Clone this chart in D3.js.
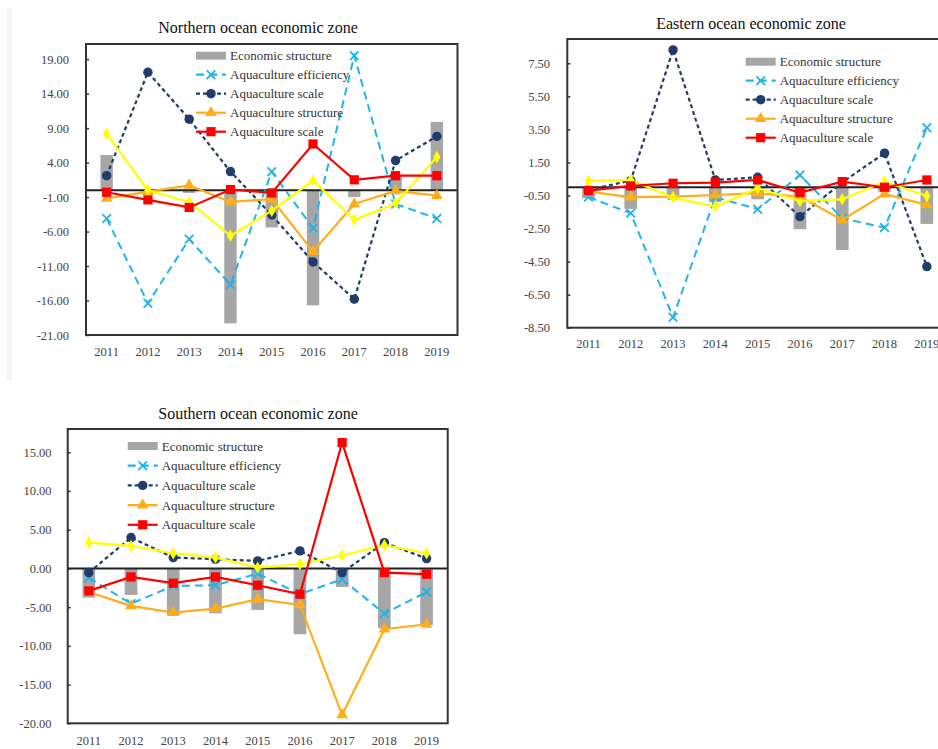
<!DOCTYPE html>
<html>
<head>
<meta charset="utf-8">
<script src="https://cdn.jsdelivr.net/npm/d3@7"></script>
<style>
    body { margin: 0; background: #fff; }
    svg { display: block; }
    .tick-label { font-family: 'Liberation Serif', serif; font-size: 12.5px; fill: #444; }
    .year-label { font-family: 'Liberation Serif', serif; font-size: 12.5px; fill: #444; }
    .panel-title { font-family: 'Liberation Serif', serif; font-size: 16px; fill: #111; }
    .legend-text { font-family: 'Liberation Serif', serif; font-size: 13px; fill: #333; }
</style>
</head>
<body>
<div id="chart"></div>
<script>
var years = ['2011', '2012', '2013', '2014', '2015', '2016', '2017', '2018', '2019'];
var legendNames = ['Economic structure', 'Aquaculture efficiency', 'Aquaculture scale',
    'Aquaculture structure', 'Aquaculture scale'];

// Northern ocean economic zone
var northEconomic = [5.1, -0.5, -0.4, -19.3, -5.4, -16.7, -1.0, 2.1, 9.9];
var northEfficiency = [-4.1, -16.4, -7.1, -13.7, 2.7, -5.5, 19.5, -2.0, -4.1];
var northScale = [2.1, 17.1, 10.3, 2.7, -3.6, -10.4, -15.8, 4.3, 7.8];
var northStructure = [-1.2, -0.2, 0.7, -1.7, -1.3, -8.9, -2.0, -0.1, -0.8];
var northScaleRed = [-0.3, -1.4, -2.5, 0.1, -0.4, 6.7, 1.5, 2.1, 2.1];
var northYellow = [8.2, 0.0, -1.7, -6.6, -3.0, 1.4, -4.3, -1.9, 4.8];
var northTicks = [19, 14, 9, 4, -1, -6, -11, -16, -21];

// Eastern ocean economic zone
var eastEconomic = [-0.67, -1.31, -0.47, -0.9, -0.73, -2.54, -3.8, -0.27, -2.22];
var eastEfficiency = [-0.6, -1.57, -7.87, -0.6, -1.33, 0.74, -1.88, -2.44, 3.6];
var eastScale = [-0.16, 0.4, 8.31, 0.44, 0.6, -1.78, 0.3, 2.06, -4.8];
var eastStructure = [-0.27, -0.6, -0.57, -0.47, -0.36, -0.57, -1.98, -0.4, -1.07];
var eastScaleRed = [-0.2, 0.08, 0.24, 0.28, 0.44, -0.33, 0.34, 0.0, 0.44];
var eastYellow = [0.38, 0.44, -0.63, -1.17, -0.06, -0.83, -0.73, 0.34, -0.53];
var eastTicks = [7.5, 5.5, 3.5, 1.5, -0.5, -2.5, -4.5, -6.5, -8.5];

// Southern ocean economic zone
var southEconomic = [-3.77, -3.42, -6.0, -5.8, -5.36, -8.5, -2.39, -7.73, -7.3];
var southEfficiency = [-1.2, -4.55, -2.26, -2.17, -0.67, -3.33, -1.4, -5.84, -3.04];
var southScale = [-0.54, 3.98, 1.4, 1.19, 0.97, 2.26, -0.54, 3.33, 1.27];
var southStructure = [-3.04, -4.84, -5.7, -5.19, -3.98, -4.71, -18.9, -7.85, -7.21];
var southScaleRed = [-2.9, -1.1, -1.91, -1.1, -2.17, -3.33, 16.25, -0.54, -0.75];
var southYellow = [3.33, 2.9, 1.96, 1.4, 0.1, 0.54, 1.7, 3.0, 1.96];
var southTicks = [15, 10, 5, 0, -5, -10, -15, -20];

var colours = {
    bar: '#a6a6a6',
    efficiency: '#1fb4ec',
    scale: '#1f3c6a',
    structure: '#ffae1a',
    scaleRed: '#ff0000',
    yellow: '#ffff00'
};

var W = 938, H = 749;

var svg = d3.select('#chart')
    .append('svg')
    .attr('width', W)
    .attr('height', H);

svg.append('rect').attr('width', W).attr('height', H).attr('fill', '#fff');
// faint strip down the left edge
svg.append('rect').attr('x', 7).attr('y', 8).attr('width', 5).attr('height', 372).attr('fill', '#f4f4f4');

var panels = [
    {
        title: 'Northern ocean economic zone', titleX: 258, titleY: 33,
        left: 86, top: 44, width: 371.5, bottom: 335, domain: [-21, 21.2],
        ticks: northTicks, labelX: 72, yearY: 356,
        legendX: 196, legendY: 55.7, legendStep: 19,
        economic: northEconomic, efficiency: northEfficiency, scale: northScale,
        structure: northStructure, scaleRed: northScaleRed, yellow: northYellow
    },
    {
        title: 'Eastern ocean economic zone', titleX: 751, titleY: 29,
        left: 567.3, top: 39, width: 380.7, bottom: 327.7, domain: [-8.5, 8.97],
        ticks: eastTicks, labelX: 553, yearY: 348,
        legendX: 745.7, legendY: 61.7, legendStep: 19,
        economic: eastEconomic, efficiency: eastEfficiency, scale: eastScale,
        structure: eastStructure, scaleRed: eastScaleRed, yellow: eastYellow
    },
    {
        title: 'Southern ocean economic zone', titleX: 258, titleY: 419,
        left: 67.7, top: 429, width: 380, bottom: 723.3, domain: [-20, 18],
        ticks: southTicks, labelX: 54.5, yearY: 745,
        legendX: 127.7, legendY: 446, legendStep: 19.7,
        economic: southEconomic, efficiency: southEfficiency, scale: southScale,
        structure: southStructure, scaleRed: southScaleRed, yellow: southYellow
    }
];

var symbolFor = {
    efficiency: d3.symbolX,
    scale: d3.symbolCircle,
    structure: d3.symbolTriangle,
    scaleRed: d3.symbolSquare,
    yellow: d3.symbolDiamond
};
var symbolSize = {
    efficiency: 50,
    scale: 70,
    structure: 60,
    scaleRed: 85,
    yellow: 45
};
var dashFor = {
    efficiency: '8,5',
    scale: '4,3',
    structure: null,
    scaleRed: null,
    yellow: null
};

function drawMarker(g, key, x, y) {
    var path = g.append('path')
        .attr('transform', 'translate(' + x + ',' + y + ')')
        .attr('d', d3.symbol().type(symbolFor[key]).size(symbolSize[key])());
    if (key === 'efficiency') {
        path.attr('fill', 'none').attr('stroke', colours[key]).attr('stroke-width', 1.8);
    } else {
        path.attr('fill', colours[key]);
    }
}

panels.forEach(function(p) {
    var g = svg.append('g');

    var x = d3.scaleBand()
        .domain(years)
        .range([p.left, p.left + p.width])
        .padding(0);

    var y = d3.scaleLinear()
        .domain(p.domain)
        .range([p.bottom, p.top]);

    g.append('text')
        .classed('panel-title', true)
        .attr('x', p.titleX)
        .attr('y', p.titleY)
        .attr('text-anchor', 'middle')
        .text(p.title);

    // y axis labels and inward ticks
    var yAxis = d3.axisLeft(y)
        .tickValues(p.ticks)
        .tickSize(-3)
        .tickPadding(p.left - p.labelX + 3)
        .tickFormat(function(d) { return d.toFixed(2); });

    var axisG = g.append('g')
        .attr('transform', 'translate(' + p.left + ',0)')
        .call(yAxis);
    axisG.select('.domain').remove();
    axisG.selectAll('.tick line').attr('stroke', '#333').attr('stroke-width', 1.5);
    axisG.selectAll('.tick text')
        .attr('class', 'tick-label')
        .attr('fill', null)
        .attr('font-size', null)
        .attr('font-family', null);

    // year labels
    g.selectAll('.year-label')
        .data(years)
        .enter()
        .append('text')
        .classed('year-label', true)
        .attr('x', function(d) { return x(d) + x.bandwidth() / 2; })
        .attr('y', p.yearY)
        .attr('text-anchor', 'middle')
        .text(function(d) { return d; });

    // bars
    var barW = x.bandwidth() * 0.3;
    g.selectAll('.bar')
        .data(p.economic)
        .enter()
        .append('rect')
        .attr('x', function(d, i) { return x(years[i]) + (x.bandwidth() - barW) / 2; })
        .attr('y', function(d) { return y(Math.max(0, d)); })
        .attr('width', barW)
        .attr('height', function(d) { return Math.abs(y(d) - y(0)); })
        .attr('fill', colours.bar);

    // zero line
    g.append('line')
        .attr('x1', p.left)
        .attr('x2', p.left + p.width)
        .attr('y1', y(0))
        .attr('y2', y(0))
        .attr('stroke', '#222')
        .attr('stroke-width', 2);

    var line = d3.line()
        .x(function(d, i) { return x(years[i]) + x.bandwidth() / 2; })
        .y(function(d) { return y(d); });

    ['efficiency', 'scale', 'structure', 'yellow', 'scaleRed'].forEach(function(key) {
        var values = p[key];
        g.append('path')
            .attr('d', line(values))
            .attr('fill', 'none')
            .attr('stroke', colours[key])
            .attr('stroke-width', key === 'efficiency' ? 2 : 2.2)
            .attr('stroke-dasharray', dashFor[key]);
        values.forEach(function(v, i) {
            drawMarker(g, key, x(years[i]) + x.bandwidth() / 2, y(v));
        });
    });

    // frame
    g.append('rect')
        .attr('x', p.left)
        .attr('y', p.top)
        .attr('width', p.width)
        .attr('height', p.bottom - p.top)
        .attr('fill', 'none')
        .attr('stroke', '#333')
        .attr('stroke-width', 2);

    // legend
    var legend = g.append('g');
    var legendKeys = ['bar', 'efficiency', 'scale', 'structure', 'scaleRed'];
    legendKeys.forEach(function(key, i) {
        var ly = p.legendY + i * p.legendStep;
        var lx = p.legendX;
        if (key === 'bar') {
            legend.append('rect')
                .attr('x', lx)
                .attr('y', ly - 4)
                .attr('width', 30)
                .attr('height', 8)
                .attr('fill', colours.bar);
        } else {
            legend.append('line')
                .attr('x1', lx)
                .attr('x2', lx + 30)
                .attr('y1', ly)
                .attr('y2', ly)
                .attr('stroke', colours[key])
                .attr('stroke-width', 2.2)
                .attr('stroke-dasharray', dashFor[key]);
            drawMarker(legend, key, lx + 15, ly);
        }
        legend.append('text')
            .classed('legend-text', true)
            .attr('x', lx + 34)
            .attr('y', ly + 4.5)
            .text(legendNames[i]);
    });
});
</script>
</body>
</html>
